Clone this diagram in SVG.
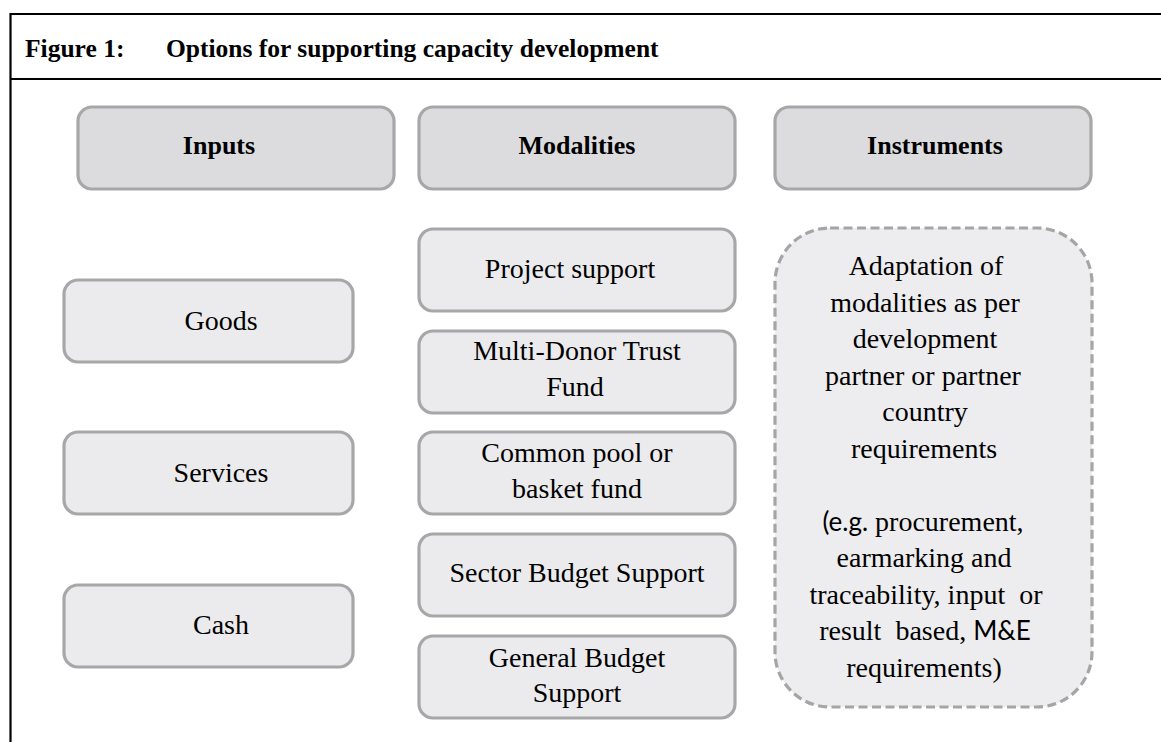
<svg xmlns="http://www.w3.org/2000/svg" width="1161" height="742" viewBox="0 0 1161 742">
<style>
.frame{stroke:#000;stroke-width:2.2;fill:none}
.hdr{fill:#DCDCDE;stroke:#A7A7A9;stroke-width:3.2}
.box{fill:#EBEBED;stroke:#A7A7A9;stroke-width:3.2}
.dash{fill:#EDEDEF;stroke:#A5A5A7;stroke-width:3.2;stroke-dasharray:9 4.5}
text{font-family:"Liberation Serif","Times New Roman",serif;fill:#000;text-anchor:middle}
.title{font-size:25.5px;font-weight:bold;text-anchor:start}
.b{font-size:26px;font-weight:bold}
.t{font-size:28px;white-space:pre}
.s{font-family:Lato,"Liberation Sans",sans-serif;font-size:26px}
</style>
<rect width="1161" height="742" fill="#fff"/>
<g id="frame">
<path class="frame" d="M10.5 742 V14 H1161 M10.5 79 H1161"/>
<text class="title" x="25" y="57">Figure 1:</text>
<text class="title" x="166" y="57">Options for supporting capacity development</text>
</g>
<g id="inputs"><rect class="hdr" x="78" y="107" width="316" height="82" rx="14"/><text class="b" x="219" y="154">Inputs</text></g>
<g id="modalities"><rect class="hdr" x="419" y="107" width="316" height="82" rx="14"/><text class="b" x="577" y="154">Modalities</text></g>
<g id="instruments"><rect class="hdr" x="775" y="107" width="316" height="82" rx="14"/><text class="b" x="935" y="154">Instruments</text></g>
<g id="goods"><rect class="box" x="64" y="280" width="289" height="82" rx="14"/><text class="t" x="221" y="330">Goods</text></g>
<g id="services"><rect class="box" x="64" y="432" width="289" height="82" rx="14"/><text class="t" x="221" y="482">Services</text></g>
<g id="cash"><rect class="box" x="64" y="585" width="289" height="82" rx="14"/><text class="t" x="221" y="634">Cash</text></g>
<g id="project"><rect class="box" x="419" y="229" width="316" height="82" rx="14"/><text class="t" x="570" y="278">Project support</text></g>
<g id="mdtf"><rect class="box" x="419" y="331" width="316" height="82" rx="14"/><text class="t" x="577" y="360">Multi-Donor Trust</text><text class="t" x="575" y="396">Fund</text></g>
<g id="pool"><rect class="box" x="419" y="432" width="316" height="82" rx="14"/><text class="t" x="577" y="462">Common pool or</text><text class="t" x="577" y="498">basket fund</text></g>
<g id="sector"><rect class="box" x="419" y="534" width="316" height="82" rx="14"/><text class="t" x="577" y="582">Sector Budget Support</text></g>
<g id="general"><rect class="box" x="419" y="636" width="316" height="82" rx="14"/><text class="t" x="577" y="667">General Budget</text><text class="t" x="577" y="702">Support</text></g>
<g id="adaptation"><rect class="dash" x="775" y="228" width="317" height="479" rx="55"/>
<text class="t" x="926" y="275">Adaptation of</text>
<text class="t" x="925" y="311.5">modalities as per</text>
<text class="t" x="925" y="348">development</text>
<text class="t" x="923" y="384.5">partner or partner</text>
<text class="t" x="925" y="421">country</text>
<text class="t" x="924" y="457.5">requirements</text>
<text class="t" x="923" y="531"><tspan class="s">(e.g.</tspan> procurement,</text>
<text class="t" x="924" y="567">earmarking and</text>
<text class="t" x="926" y="603.5">traceability, input  or</text>
<text class="t" x="925" y="640">result  based, <tspan class="s">M&amp;E</tspan></text>
<text class="t" x="924" y="676.5">requirements)</text>
</g>
<g id="connectors"/>
</svg>
